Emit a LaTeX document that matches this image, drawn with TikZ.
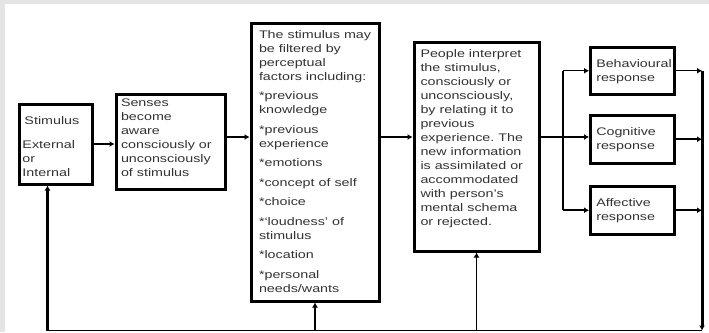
\documentclass[tikz,border=0pt]{standalone}
\usepackage{fontspec}
\setmainfont{Liberation Sans}[FakeStretch=1.3]
\usetikzlibrary{arrows.meta,positioning,calc}
\frenchspacing
\definecolor{frameGray}{HTML}{E4E4E4}
\tikzset{stage box/.style={draw=black, line width=3pt, inner sep=0pt, anchor=north west}}
\tikzset{response box/.style={draw=black, line width=2.5pt, inner sep=0pt, anchor=north west}}
\tikzset{
	flow/.style={-{Latex[length=5pt,width=6pt]}, line width=1.2pt},
	heavy flow/.style={flow, line width=2.6pt}
}
% width, height, left pad, top pad, text
\newcommand{\boxtext}[5]{\parbox[c][#2][t]{#1}{\raggedright\leftskip=#3\relax\vspace*{#4}#5}}

\begin{document}
\begin{tikzpicture}[x=1pt, y=-1pt, font=\fontsize{11}{14}\selectfont, text=black!80]
	\fill[frameGray] (0,0) rectangle (709,332);
	\fill[white] (4.5,3.5) rectangle (709,332);
	\useasboundingbox (0,0) rectangle (709,332);
	\node[stage box] at (17.5,102.5) (stim) {\boxtext{73pt}{80pt}{3.5pt}{12.5pt}{\hspace*{2pt}Stimulus\\[10pt] External\\ or\\ Internal}};
	\node[stage box] at (114.5,92.5) (senses) {\boxtext{109pt}{95pt}{5pt}{4.5pt}{Senses\\ become\\ aware\\ consciously or\\ unconsciously\\ of stimulus}};
	\node[stage box] at (249.5,21.5) (filter) {\boxtext{128pt}{278pt}{8pt}{7.5pt}{The stimulus may\\ be filtered by\\ perceptual\\ factors including:\\[5.5pt] *previous\\ knowledge\\[5.5pt] *previous\\ experience\\[5.5pt] *emotions\\[5.5pt] *concept of self\\[5.5pt] *choice\\[5.5pt] *`loudness' of\\ stimulus\\[5.5pt] *location\\[5.5pt] *personal\\ needs/wants}};
	\node[stage box] at (412.5,40.5) (interp) {\boxtext{125pt}{209pt}{6.5pt}{7.5pt}{People interpret\\ the stimulus,\\ consciously or\\ unconsciously,\\ by relating it to\\ previous\\ experience. The\\ new information\\ is assimilated or\\ accommodated\\ with person's\\ mental schema\\ or rejected.}};
	\node[response box] at (589,46) (behav) {\boxtext{84pt}{47pt}{6pt}{12pt}{Behavioural\\ response}};
	\node[response box] at (589,114) (cogn) {\boxtext{84pt}{48pt}{6pt}{12pt}{Cognitive\\ response}};
	\node[response box] at (589,185) (affect) {\boxtext{84pt}{48pt}{6pt}{12pt}{Affective\\ response}};
	% main line through the stages
	\coordinate (axis) at (0,137);
	\coordinate (split) at (563,137);
	\coordinate (gather) at (702,69);
	\coordinate (corner) at (702,330.5);
	\coordinate (back) at (47.5,330.5);
	\draw[heavy flow] (stim.east) -- (stim.east -| senses.west);
	\draw[flow] (senses.east |- axis) -- (filter.west |- axis);
	\draw[flow] (filter.east |- axis) -- (interp.west |- axis);
	\draw[flow, line width=2pt] (interp.east |- axis) -- (cogn.west |- axis);
	\draw[flow] (split |- behav.west) -- (behav.west);
	\draw[line width=1.2pt] (split |- behav.west) -- (split |- affect.west);
	\draw[flow, line width=2pt] (split |- affect.west) -- (affect.west);
	% responses feed back
	\draw[flow] (behav.east) -- (gather |- behav.east);
	\draw[flow, line width=2pt] (cogn.east) -- (gather |- cogn.east);
	\draw[flow, line width=2pt] (affect.east) -- (gather |- affect.east);
	\draw[flow, line width=3pt] (gather |- behav.east) -- (corner);
	\draw[line width=1.5pt] (corner) -- (back);
	\draw[heavy flow] (back) -- (back |- stim.south);
	\draw[heavy flow] (filter.south |- back) -- (filter.south);
	\draw[flow] (interp.south |- back) -- (interp.south);
\end{tikzpicture}
\end{document}
